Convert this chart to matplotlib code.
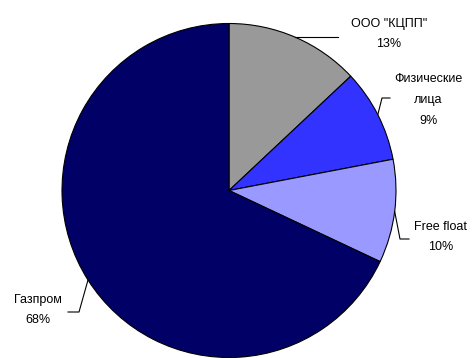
import numpy as np
import matplotlib.pyplot as plt
from matplotlib import font_manager

# shareholders structure
labels = ['ООО "КЦПП"', 'Физические\nлица', 'Free float', 'Газпром']
shares = [13, 9, 10, 68]
colors = ['#999999', '#3333FF', '#9999FF', '#000066']

names = {f.name for f in font_manager.fontManager.ttflist}
if 'Liberation Sans Narrow' in names:
    fam, fs = 'Liberation Sans Narrow', 11
else:
    fam, fs = 'Liberation Sans', 9
plt.rcParams['font.family'] = [fam, 'DejaVu Sans']

W, H = 475, 358
fig = plt.figure(figsize=(W / 100, H / 100), dpi=100)
ax = fig.add_axes([0, 0, 1, 1])

cx, cy, r = 229, H - 190.5, 167
wedges, _ = ax.pie(shares, colors=colors, startangle=90, counterclock=False,
                   center=(cx, cy), radius=r, frame=True,
                   wedgeprops=dict(edgecolor='black', linewidth=0.8))
ax.set_xlim(0, W)
ax.set_ylim(0, H)
ax.set_aspect('equal')
ax.axis('off')

# label layout: text centre, leader elbow, leader end (pixel coords, y from top)
text_pos = [(389, 34), (428, 100), (441, 237), (38, 310)]
elbows = [None, (382, 98), (400, 239), (79, 312)]
ends = [(338, 37), (390, 98), (409, 239), (68, 312)]

for w, lab, val, tp, el, en in zip(wedges, labels, shares, text_pos, elbows, ends):
    mid = np.deg2rad((w.theta1 + w.theta2) / 2)
    ax_pt = (cx + r * np.cos(mid), cy + r * np.sin(mid))
    pts = [ax_pt]
    if el is not None:
        pts.append((el[0], H - el[1]))
    else:
        pts.append((ax_pt[0], H - en[1]))
    pts.append((en[0], H - en[1]))
    xs, ys = zip(*pts)
    ax.plot(xs, ys, color='black', linewidth=0.8)
    ax.text(tp[0], H - tp[1], lab + '\n' + f'{val}%', ha='center', va='center',
            fontsize=fs, linespacing=1.95, color='black')

fig.savefig('out.png', dpi=100)
